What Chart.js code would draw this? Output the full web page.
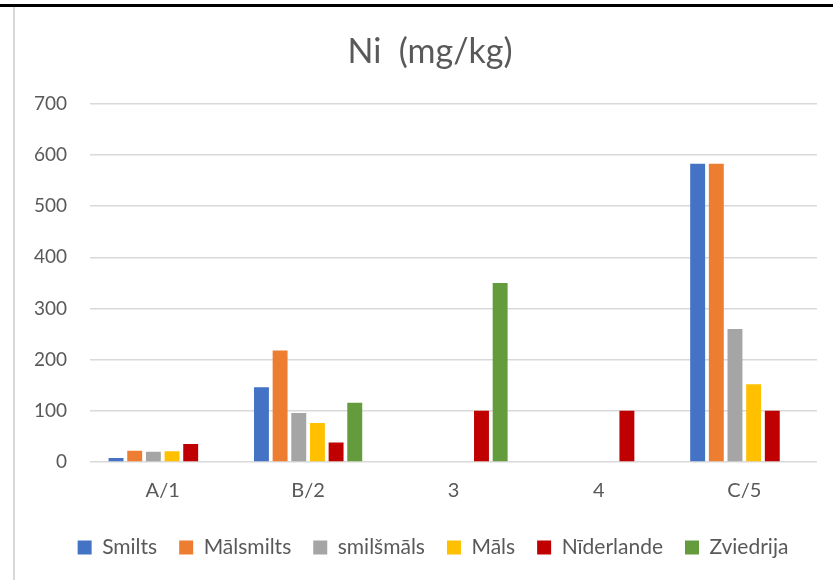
<!DOCTYPE html>
<html>
<head>
<meta charset="utf-8">
<script src="https://cdn.jsdelivr.net/npm/chart.js@4"></script>
<style>
  html, body { margin: 0; padding: 0; background: #fff; }
  #frame {
    position: absolute; left: 0; top: 0; width: 833px; height: 580px; overflow: hidden;
  }
  #topline { position: absolute; left: 0; top: 4px; width: 833px; height: 3px; background: #000; }
  #leftline { position: absolute; left: 13px; top: 7px; width: 2px; height: 573px; background: #d9d9d9; }
  #wrap { position: absolute; left: 15px; top: 7px; width: 818px; height: 561px; }
</style>
</head>
<body>
<div id="frame">
  <div id="topline"></div>
  <div id="leftline"></div>
  <div id="wrap"><canvas id="barChart"></canvas></div>
</div>
<script>
const categories = ['A/1', 'B/2', '3', '4', 'C/5'];
const smilts = [8, 146, null, null, 583];
const malsmilts = [22, 218, null, null, 583];
const smilsmals = [20, 96, null, null, 260];
const mals = [21, 76, null, null, 152];
const niderlande = [35, 38, 100, 100, 100];
const zviedrija = [null, 116, 350, null, null];
const yTicks = [0, 100, 200, 300, 400, 500, 600, 700];

const FONT = 'Lato, "Liberation Sans", sans-serif';
const GREY_TEXT = '#595959';

function dataset(label, data, color) {
  return {
    label: label,
    data: data,
    backgroundColor: color,
    categoryPercentage: 0.77,
    barPercentage: 0.8,
  };
}

// nudge title and legend a little to the right, like Excel centres them
const nudgePlugin = {
  id: 'nudge',
  afterLayout(chart) {
    chart.titleBlock.left += 14;
    chart.titleBlock.right += 14;
    chart.legend.left += 17;
    chart.legend.right += 17;
  },
};

const ctx = document.getElementById('barChart').getContext('2d');
new Chart(ctx, {
  type: 'bar',
  data: {
    labels: categories,
    datasets: [
      dataset('Smilts', smilts, '#4472C4'),
      dataset('Mālsmilts', malsmilts, '#ED7D31'),
      dataset('smilšmāls', smilsmals, '#A5A5A5'),
      dataset('Māls', mals, '#FFC000'),
      dataset('Nīderlande', niderlande, '#C00000'),
      dataset('Zviedrija', zviedrija, '#639B3D'),
    ],
  },
  plugins: [nudgePlugin],
  options: {
    responsive: true,
    maintainAspectRatio: false,
    animation: false,
    layout: { padding: { left: 0, right: 16, top: 0, bottom: 0 } },
    plugins: {
      tooltip: { enabled: false },
      title: {
        display: true,
        text: 'Ni  (mg/kg)',
        color: GREY_TEXT,
        font: { family: FONT, size: 34, weight: 'normal' },
        padding: { top: 25, bottom: 31 },
      },
      legend: {
        position: 'bottom',
        labels: {
          color: GREY_TEXT,
          font: { family: FONT, size: 21 },
          boxWidth: 14,
          boxHeight: 14,
          padding: 22,
        },
      },
    },
    scales: {
      x: {
        grid: { display: false },
        border: { display: false },
        ticks: { color: GREY_TEXT, font: { family: FONT, size: 20 }, padding: 9 },
        afterFit: (scale) => { scale.height = 53; },
      },
      y: {
        min: 0,
        max: 700,
        afterBuildTicks: (scale) => { scale.ticks = yTicks.map((v) => ({ value: v })); },
        grid: { color: '#d9d9d9', lineWidth: 1.5, drawTicks: false },
        border: { display: false },
        ticks: { color: GREY_TEXT, font: { family: FONT, size: 19 }, padding: 23 },
        afterFit: (scale) => { scale.width = 75; },
      },
    },
  },
});
</script>
</body>
</html>
